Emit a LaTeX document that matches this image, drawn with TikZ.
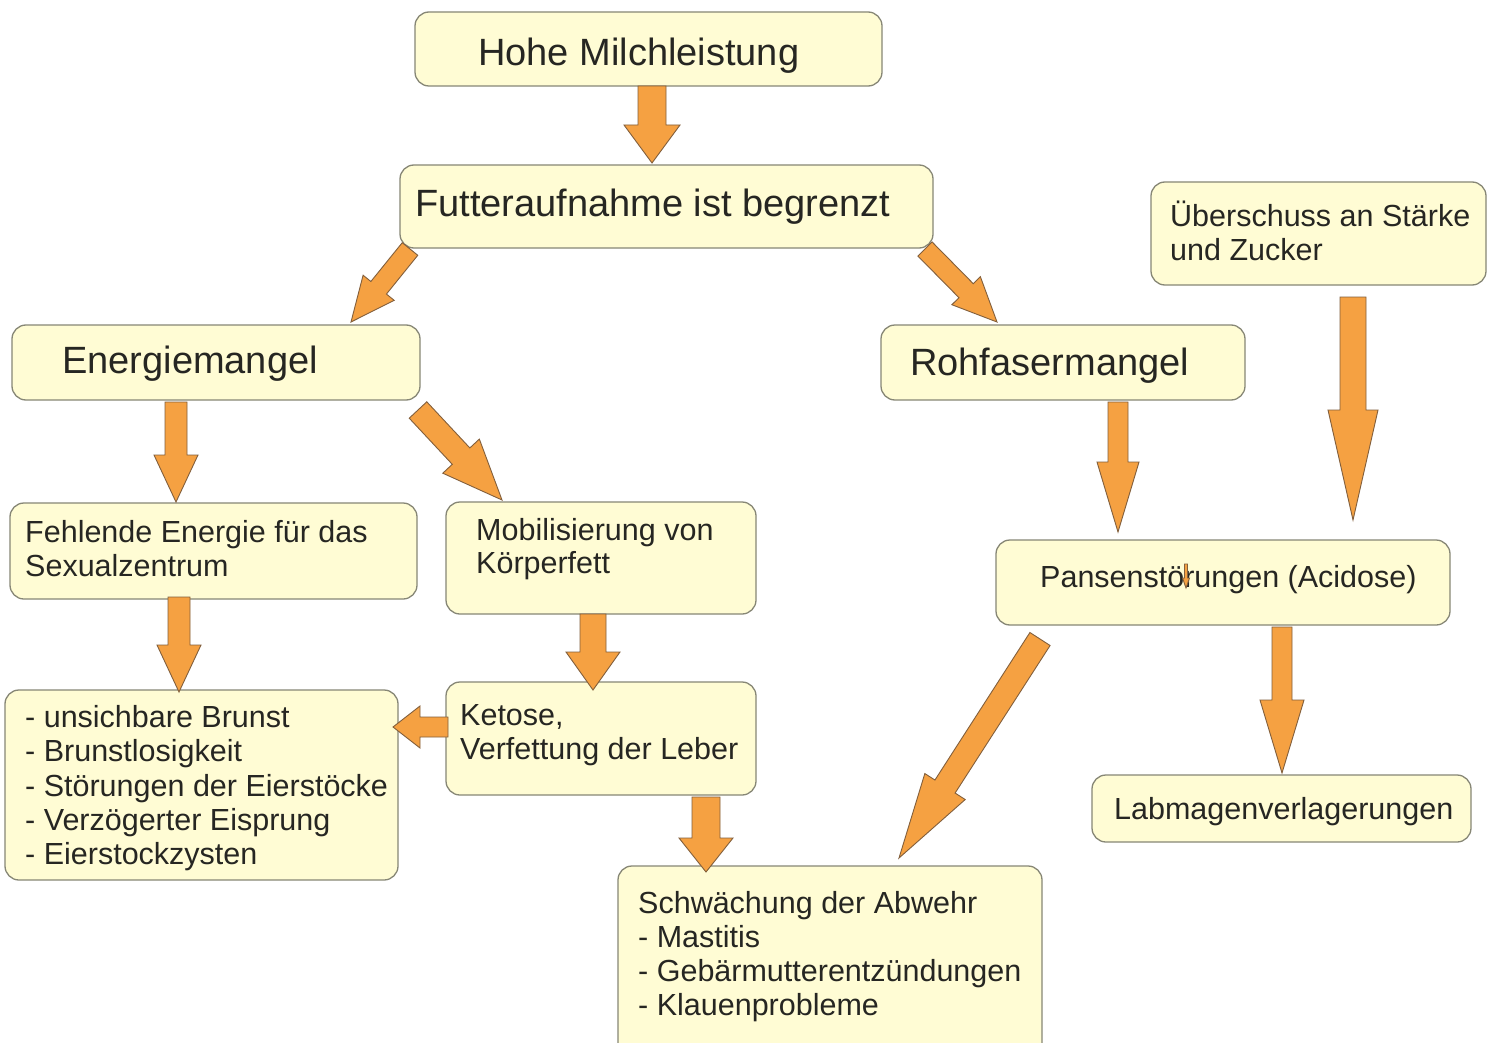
\documentclass[tikz,border=0pt]{standalone}
\usepackage{fontspec}
\setmainfont{Liberation Sans}
\usetikzlibrary{calc,fit}
\definecolor{boxfill}{RGB}{255,252,212}
\definecolor{boxline}{RGB}{135,135,118}
\definecolor{arrfill}{RGB}{245,161,66}
\definecolor{arrline}{RGB}{130,95,60}
\definecolor{txtcol}{RGB}{38,38,34}
\tikzset{
  box/.style={draw=boxline, fill=boxfill, line width=1.3pt, rounded corners=14pt, inner sep=0pt},
  txt/.style={inner sep=0pt, text=txtcol, anchor=base west},
  big/.style={font=\fontsize{38}{44}\selectfont},
  small/.style={font=\fontsize{30.5}{34}\selectfont},
  arrowstyle/.style={draw=arrline, fill=arrfill, line width=0.9pt, line join=miter}
}
% tail, tip, shaft half width, head half width, head length
\newcommand{\blockarrow}[5]{%
  \coordinate (hb) at ($(#2)!#5pt!(#1)$);
  \draw[arrowstyle] ($(#1)!#3pt!90:(#2)$) -- ($(hb)!#3pt!90:(#2)$) -- ($(hb)!#4pt!90:(#2)$)
    -- (#2) -- ($(hb)!#4pt!-90:(#2)$) -- ($(hb)!#3pt!-90:(#2)$) -- ($(#1)!#3pt!-90:(#2)$) -- cycle;
}
\begin{document}
\begin{tikzpicture}[x=1pt,y=-1pt]
\useasboundingbox (0,0) rectangle (1488,1043);
\fill[white] (0,0) rectangle (1488,1043);

% boxes
\node[box, fit={(415,12)(882,86)}] (hohe) {};
\node[box, fit={(400,165)(933,248)}] (futter) {};
\node[box, fit={(12,325)(420,400)}] (energie) {};
\node[box, fit={(881,325)(1245,400)}] (rohfaser) {};
\node[box, fit={(1151,182)(1486,285)}] (ueber) {};
\node[box, fit={(10,503)(417,599)}] (fehlende) {};
\node[box, fit={(446,502)(756,614)}] (mobil) {};
\node[box, fit={(996,540)(1450,625)}] (pansen) {};
\node[box, fit={(5,690)(398,880)}] (liste) {};
\node[box, fit={(446,682)(756,795)}] (ketose) {};
\node[box, fit={(1092,775)(1471,842)}] (labmagen) {};
\node[box, fit={(618,866)(1042,1065)}] (abwehr) {};

% texts
\node[txt,big] (t1) at (478,66) {Hohe Milchleistung};
\node[txt,big] (t2) at (415,216) {Futteraufnahme ist begrenzt};
\node[txt,big] (t3) at (62,373) {Energiemangel};
\node[txt,big] (t4) at (910,375) {Rohfasermangel};
\node[txt,small] (t5a) at (1170,226) {Überschuss an Stärke};
\node[txt,small] (t5b) at (1170,260) {und Zucker};
\node[txt,small] (t6a) at (25,542) {Fehlende Energie für das};
\node[txt,small] (t6b) at (25,576) {Sexualzentrum};
\node[txt,small] (t7a) at (476,540) {Mobilisierung von};
\node[txt,small] (t7b) at (476,573) {Körperfett};
\node[txt,small] (t8) at (1040,587) {Pansenstörungen (Acidose)};
\node[txt,small] (t9a) at (25,727) {- unsichbare Brunst};
\node[txt,small] (t9b) at (25,761) {- Brunstlosigkeit};
\node[txt,small] (t9c) at (25,796) {- Störungen der Eierstöcke};
\node[txt,small] (t9d) at (25,830) {- Verzögerter Eisprung};
\node[txt,small] (t9e) at (25,864) {- Eierstockzysten};
\node[txt,small] (t10a) at (460,725) {Ketose,};
\node[txt,small] (t10b) at (460,759) {Verfettung der Leber};
\node[txt,small] (t11) at (1114,819) {Labmagenverlagerungen};
\node[txt,small] (t12a) at (638,913) {Schwächung der Abwehr};
\node[txt,small] (t12b) at (638,947) {- Mastitis};
\node[txt,small] (t12c) at (638,981) {- Gebärmutterentzündungen};
\node[txt,small] (t12d) at (638,1015) {- Klauenprobleme};

% arrow end points
\coordinate (a1s) at (652,86);
\coordinate (a1e) at (652,163);
\coordinate (a2s) at (410,249);
\coordinate (a2e) at (351,322);
\coordinate (a3s) at (925,249);
\coordinate (a3e) at (997,322);
\coordinate (a4s) at (176,402);
\coordinate (a4e) at (176,502);
\coordinate (a5s) at (418,410);
\coordinate (a5e) at (502,500);
\coordinate (a6s) at (1118,402);
\coordinate (a6e) at (1118,532);
\coordinate (a7s) at (1353,297);
\coordinate (a7e) at (1353,520);
\coordinate (a8s) at (179,597);
\coordinate (a8e) at (179,692);
\coordinate (a9s) at (593,614);
\coordinate (a9e) at (593,690);
\coordinate (a10s) at (448,727);
\coordinate (a10e) at (393,727);
\coordinate (a11s) at (706,797);
\coordinate (a11e) at (706,872);
\coordinate (a12s) at (1040,639);
\coordinate (a12e) at (899,858);
\coordinate (a13s) at (1282,627);
\coordinate (a13e) at (1282,773);
\coordinate (a14s) at (1186,564);
\coordinate (a14e) at (1186,588);

\blockarrow{a1s}{a1e}{14}{28}{38}
\blockarrow{a2s}{a2e}{10}{20}{44}
\blockarrow{a3s}{a3e}{10}{20}{44}
\blockarrow{a4s}{a4e}{11}{22}{47}
\blockarrow{a5s}{a5e}{12}{25}{60}
\blockarrow{a6s}{a6e}{10}{21}{70}
\blockarrow{a7s}{a7e}{13}{25}{110}
\blockarrow{a8s}{a8e}{11}{22}{47}
\blockarrow{a9s}{a9e}{13}{27}{38}
\blockarrow{a10s}{a10e}{10}{21}{27}
\blockarrow{a11s}{a11e}{14}{27}{34}
\blockarrow{a12s}{a12e}{12}{24}{85}
\blockarrow{a13s}{a13e}{10}{22}{73}
\blockarrow{a14s}{a14e}{1.5}{3.5}{10}
\end{tikzpicture}
\end{document}
